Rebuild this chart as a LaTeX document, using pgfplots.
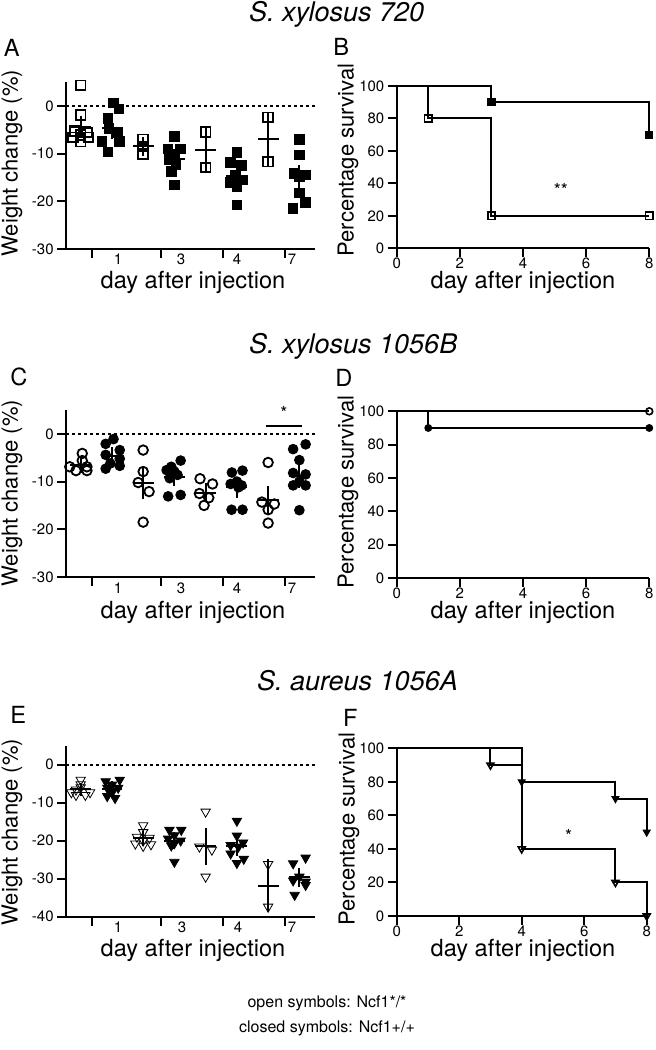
\documentclass[border=0pt]{standalone}
\usepackage{fontspec}
\setmainfont{TeX Gyre Heros}
\usepackage{pgfplots}
\pgfplotsset{compat=1.18}

\newcommand{\tickfont}{\fontsize{7.5}{8}\selectfont}
\newcommand{\ylabfont}{\fontsize{11}{12}\selectfont}
\newcommand{\xlabfont}{\fontsize{11.8}{13}\selectfont}
\newcommand{\titfont}{\fontsize{13.5}{15}\selectfont\itshape}
\newcommand{\letfont}{\fontsize{11.8}{13}\selectfont}

\pgfplotsset{
  base/.style={
    scale only axis, clip=false,
    axis x line*=bottom, axis y line*=left,
    axis line style={line width=1pt},
    tick style={line width=1pt, black},
    major tick length=4.5pt, tick align=outside,
    tick label style={font=\tickfont},
    xticklabel style={inner sep=0pt},
    yticklabel style={inner sep=1.5pt},
    /pgf/number format/assume math mode=true,
  },
  wc/.style={base, width=124.5pt, xmin=0.53, xmax=8.5,
    xtick={1.35,3.57,5.55,7.55}, xticklabels={}},
  surv/.style={base, xmin=0, xmax=8, ymin=0, ymax=100,
    xtick={0,2,4,6,8}, ytick={0,20,40,60,80,100}},
  opn/.style={only marks, black, mark options={line width=0.9pt, fill=none}},
  cls/.style={only marks, black, mark options={line width=0.5pt, fill=black}},
  mse/.style={only marks, black, mark=-, mark size=5.2pt,
    mark options={line width=1pt},
    error bars/.cd, y dir=both, y explicit,
    error bar style={line width=1pt},
    error mark options={line width=1pt, mark size=2.5pt}},
  zero/.style={black, line width=0.8pt, dash pattern=on 1.6pt off 1.4pt},
  km/.style={const plot, black, line width=1pt},
}

\begin{document}
\begin{tikzpicture}
\path[use as bounding box] (0,0) rectangle (327.5pt,-525pt);

% ---------- S. xylosus 720 ----------
\node[font=\titfont, anchor=base west] at (121pt,-10.9pt) {S. xylosus 720};
\node[font=\letfont, anchor=base west, inner sep=0pt] at (1.7pt,-28.3pt) {A};
\node[font=\letfont, anchor=base west, inner sep=0pt] at (166.5pt,-27.5pt) {B};

\begin{axis}[wc, at={(33pt,-124.5pt)}, anchor=south west, height=83.5pt,
  ymin=-30, ymax=5, ytick={-30,-20,-10,0}, yticklabels={-30,-20,-10,0}]
  \addplot[zero] coordinates {(0.53,0)(8.5,0)};
  \addplot[opn, mark=square, mark size=2.4pt] coordinates {
    (1,4.3)(1,-1.9)(0.8,-5.3)(1.2,-5.6)(1,-6.1)(0.75,-6.6)(1.25,-6.6)(1,-7.5)
    (3,-7.0)(3,-8.5)(3,-10.1)
    (5,-5.5)(5,-12.9)
    (7,-2.4)(7,-11.7)};
  \addplot[cls, mark=square*, mark size=2.4pt] coordinates {
    (2.05,0.6)(2.23,-0.7)(1.87,-2.6)(1.9,-4.7)(2.2,-5.6)(1.68,-7.5)(2.25,-7.5)(1.87,-9.7)
    (4,-6.4)(3.8,-9.0)(4.2,-9.0)(4,-10.1)(3.85,-11.3)(4.05,-12.3)(3.9,-13.8)(4,-16.6)
    (6,-9.8)(5.8,-11.9)(6.15,-12.5)(5.95,-14.5)(5.8,-16.1)(6.2,-15.5)(6,-16.9)(6,-20.8)
    (8,-7.1)(8,-10.3)(7.85,-14.1)(8.2,-14.5)(8,-14.8)(8,-18.3)(8.2,-20.2)(7.8,-21.5)};
  \addplot[mse] coordinates {
    (1,-4.4) +- (0,1.3) (2,-4.7) +- (0,1.2) (3,-8.5) +- (0,0.9) (4,-11.1) +- (0,1.1)
    (5,-9.2) +- (0,3.7) (6,-14.75) +- (0,1.2) (7,-7.05) +- (0,4.65) (8,-15.1) +- (0,1.6)};
\end{axis}

\begin{axis}[surv, at={(198.35pt,-124.15pt)}, anchor=south west,
  width=126.3pt, height=81.15pt]
  \addplot[km, mark=square*, mark size=1.8pt, mark indices={2,4},
    mark options={line width=0.5pt, fill=black}]
    coordinates {(0,100)(3,90)(8,90)(8,70)};
  \addplot[km, mark=square, mark size=1.8pt, mark indices={2,3,4},
    mark options={line width=0.8pt, fill=white}]
    coordinates {(0,100)(1,80)(3,20)(8,20)};
  \node[font=\fontsize{9}{10}\selectfont] at (axis cs:5.2,36) {**};
\end{axis}

\foreach \xx/\tl in {59/1, 90.5/3, 118.5/4, 146/7}
  \node[font=\tickfont] at (\xx pt,-129.5pt) {\tl};
\node[font=\ylabfont, rotate=90] at (6pt,-81.5pt) {Weight change (\%)};
\node[font=\xlabfont, inner sep=0pt] at (96.5pt,-141pt) {day after injection};
\node[font=\ylabfont, rotate=90] at (174pt,-80pt) {Percentage survival};
\node[font=\xlabfont, inner sep=0pt] at (261.5pt,-141pt) {day after injection};

% ---------- S. xylosus 1056B ----------
\node[font=\titfont, anchor=base west] at (121pt,-176.6pt) {S. xylosus 1056B};
\node[font=\letfont, anchor=base west, inner sep=0pt] at (5pt,-192.5pt) {C};
\node[font=\letfont, anchor=base west, inner sep=0pt] at (167.5pt,-193.3pt) {D};

\begin{axis}[wc, at={(33pt,-288.5pt)}, anchor=south west, height=83.5pt,
  ymin=-30, ymax=5, ytick={-30,-20,-10,0}, yticklabels={-30,-20,-10,0}]
  \addplot[zero] coordinates {(0.53,0)(8.5,0)};
  \addplot[opn, mark=o, mark size=2.4pt] coordinates {
    (1.05,-4.1)(1.05,-5.6)(0.65,-6.9)(0.85,-7.7)(1.2,-7.7)(1.2,-6.9)
    (3,-3.4)(3,-7.9)(2.84,-10.2)(3.19,-12.1)(3,-18.5)
    (4.82,-9.4)(5.22,-10.5)(4.8,-12.5)(5.1,-13.4)(4.95,-15.0)
    (7,-6.0)(6.8,-14.3)(7.2,-14.7)(7,-15.9)(7,-18.7)};
  \addplot[cls, mark=*, mark size=2.4pt] coordinates {
    (2.05,-1.1)(1.8,-2.1)(2.25,-3.4)(1.8,-4.4)(2.25,-5.2)(1.95,-6.2)(2.25,-6.7)(1.8,-7.3)
    (4.2,-5.6)(3.9,-6.9)(3.75,-7.6)(4,-7.9)(4.1,-8.6)(3.85,-9.3)(3.8,-13.1)(4.2,-12.8)
    (5.84,-8.1)(6.18,-7.7)(6,-10.0)(5.8,-10.5)(6.15,-10.8)(6.05,-11.2)(5.83,-15.9)(6.18,-15.9)
    (8.2,-2.2)(7.8,-3.2)(8,-5.5)(7.8,-8.2)(8.2,-8.5)(8,-10.0)(7.8,-10.8)(8.2,-10.8)(8,-16.0)};
  \addplot[mse] coordinates {
    (1,-6.5) +- (0,0.6) (2,-4.6) +- (0,0.8) (3,-10.4) +- (0,2.2) (4,-9.0) +- (0,0.9)
    (5,-12.3) +- (0,1.0) (6,-11.2) +- (0,1.1) (7,-13.9) +- (0,2.0) (8,-8.8) +- (0,1.4)};
  \addplot[black, line width=0.8pt] coordinates {(6.92,1.7)(8.1,1.7)};
  \node[font=\fontsize{9}{10}\selectfont] at (axis cs:7.5,4.3) {*};
\end{axis}

\begin{axis}[surv, at={(198.35pt,-289pt)}, anchor=south west,
  width=126.3pt, height=83.35pt]
  \addplot[km, mark=*, mark size=1.7pt, mark indices={2,3},
    mark options={line width=0.5pt, fill=black}]
    coordinates {(0,100)(1,90)(8,90)};
  \addplot[km, mark=o, mark size=1.7pt, mark indices={2},
    mark options={line width=0.8pt, fill=white}]
    coordinates {(0,100)(8,100)};
\end{axis}

\foreach \xx/\tl in {59/1, 90.5/3, 118.5/4, 146/7}
  \node[font=\tickfont] at (\xx pt,-294pt) {\tl};
\node[font=\ylabfont, rotate=90] at (6pt,-246.5pt) {Weight change (\%)};
\node[font=\xlabfont, inner sep=0pt] at (96.5pt,-306pt) {day after injection};
\node[font=\ylabfont, rotate=90] at (174pt,-246pt) {Percentage survival};
\node[font=\xlabfont, inner sep=0pt] at (261.5pt,-306pt) {day after injection};

% ---------- S. aureus 1056A ----------
\node[font=\titfont, anchor=base west] at (125pt,-345pt) {S. aureus 1056A};
\node[font=\letfont, anchor=base west, inner sep=0pt] at (5pt,-361.5pt) {E};
\node[font=\letfont, anchor=base west, inner sep=0pt] at (171.3pt,-363.3pt) {F};

\begin{axis}[wc, at={(33pt,-458.35pt)}, anchor=south west, height=85.5pt,
  ymin=-40, ymax=5, ytick={-40,-30,-20,-10,0}, yticklabels={-40,-30,-20,-10,0}]
  \addplot[zero] coordinates {(0.53,0)(8.5,0)};
  \addplot[opn, mark=triangle, mark size=2.7pt, mark options={rotate=180}] coordinates {
    (1,-4.0)(1,-5.2)(1,-6.0)(0.85,-6.6)(0.7,-7.3)(1.3,-7.3)(0.85,-8.0)(1.15,-8.0)
    (3,-16.0)(3,-17.8)(2.8,-19.0)(3.2,-19.3)(3,-20.0)(2.75,-20.8)(3.25,-21.0)(3,-21.4)
    (5,-12.4)(4.8,-21.6)(5.2,-22.4)(5,-29.5)
    (7,-26.2)(7,-37.4)};
  \addplot[cls, mark=triangle*, mark size=2.7pt, mark options={rotate=180}] coordinates {
    (2.25,-4.0)(1.8,-4.4)(2,-5.3)(1.85,-6.1)(2.2,-6.1)(2,-7.4)(1.85,-8.3)(2.1,-8.8)
    (3.84,-17.2)(4.22,-17.2)(4,-18.6)(3.8,-19.5)(4.2,-20.0)(4,-20.7)(3.9,-21.3)(4,-25.6)
    (6,-14.8)(6,-18.7)(6.2,-20.5)(5.8,-21.2)(6.05,-21.6)(5.8,-23.4)(6.22,-24.8)(6,-25.9)
    (8.2,-24.5)(7.8,-26.0)(8,-29.5)(7.8,-30.5)(8.2,-30.8)(8.2,-31.7)(7.85,-34.3)};
  \addplot[mse] coordinates {
    (1,-6.5) +- (0,0.45) (2,-6.3) +- (0,0.6) (3,-19.4) +- (0,0.6) (4,-20.0) +- (0,0.9)
    (5,-21.5) +- (0,3.5) (6,-21.4) +- (0,1.2) (7,-31.8) +- (0,5.6) (8,-29.6) +- (0,1.2)};
\end{axis}

\begin{axis}[surv, at={(198.35pt,-458pt)}, anchor=south west,
  width=125pt, height=83.85pt]
  \addplot[km, mark=triangle*, mark size=2pt, mark indices={2,3,4},
    mark options={line width=0.5pt, fill=black, rotate=180}]
    coordinates {(0,100)(4,80)(7,70)(8,50)};
  \addplot[km, mark=triangle, mark size=2pt, mark indices={2,3,4,5},
    mark options={line width=0.8pt, fill=white, rotate=180}]
    coordinates {(0,100)(3,90)(4,40)(7,20)(8,0)};
  \node[font=\fontsize{9}{10}\selectfont] at (axis cs:5.5,48) {*};
\end{axis}

\foreach \xx/\tl in {59/1, 91/3, 119/4, 146/7}
  \node[font=\tickfont] at (\xx pt,-463.5pt) {\tl};
\node[font=\ylabfont, rotate=90] at (6pt,-416pt) {Weight change (\%)};
\node[font=\xlabfont, inner sep=0pt] at (96.5pt,-475pt) {day after injection};
\node[font=\ylabfont, rotate=90] at (174.5pt,-414.5pt) {Percentage survival};
\node[font=\xlabfont, inner sep=0pt] at (261.5pt,-475pt) {day after injection};

% ---------- footer ----------
\node[font=\fontsize{8}{10}\selectfont] at (163.5pt,-501.5pt) {open symbols: Ncf1*/*};
\node[font=\fontsize{8}{10}\selectfont] at (163.5pt,-514pt) {closed symbols: Ncf1+/+};
\end{tikzpicture}
\end{document}
